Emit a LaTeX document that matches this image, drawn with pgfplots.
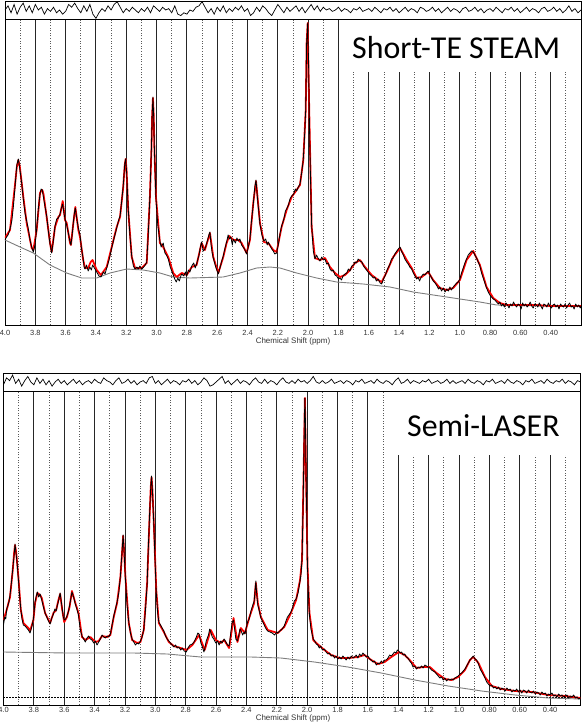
\documentclass[border=0pt]{standalone}
\usepackage{fontspec}
\setmainfont{Liberation Sans}
\newfontfamily\calibri{Carlito}
\usepackage{pgfplots}
\pgfplotsset{compat=1.18}

\definecolor{fitred}{RGB}{255,0,0}
\definecolor{basegray}{RGB}{125,125,125}

\pgfplotsset{
  mrs/.style={
    scale only axis,
    x dir=reverse, xmin=0.2, xmax=4.0, ymin=0,
    axis line style={black, line width=0.9bp},
    xtick={4.0,3.8,3.6,3.4,3.2,3.0,2.8,2.6,2.4,2.2,2.0,1.8,1.6,1.4,1.2,1.0,0.8,0.6,0.4},
    xticklabels={4.0,3.8,3.6,3.4,3.2,3.0,2.8,2.6,2.4,2.2,2.0,1.8,1.6,1.4,1.2,1.0,0.80,0.60,0.40},
    minor xtick={3.9,3.7,3.5,3.3,3.1,2.9,2.7,2.5,2.3,2.1,1.9,1.7,1.5,1.3,1.1,0.9,0.7,0.5,0.3},
    xmajorgrids, xminorgrids,
    major grid style={black!85, line width=0.9bp},
    minor grid style={black!65, line width=0.7bp, dash pattern=on 1bp off 1.6bp},
    ytick=\empty, major tick length=0pt, minor tick length=0pt,
    tick label style={font=\fontsize{7.5}{8}\selectfont, text=black!80},
    xticklabel style={inner sep=0pt, anchor=north},
  },
  resid/.style={
    scale only axis, height=18bp,
    x dir=reverse, xmin=0.2, xmax=4.0, ymin=-6.5, ymax=6.5,
    ticks=none, axis line style={black, line width=0.9bp},
  },
  dat/.style={black, line width=0.8bp, line join=round},
  fit/.style={fitred, line width=1.8bp, line join=round},
  base/.style={basegray, line width=0.9bp},
}

\begin{document}
\begin{tikzpicture}
\useasboundingbox (0,0) rectangle (582bp,-723bp);

% ---------------- top: short-TE STEAM ----------------
\begin{axis}[resid, width=576bp, at={(5bp,-1bp)}, anchor=north west]
\addplot[black, line width=0.7bp] coordinates {
(4.00,0)(3.98,3)(3.96,-2)(3.94,4)(3.92,-3)(3.90,2)(3.88,5)(3.86,-1)(3.84,3)(3.82,-2)
(3.80,4)(3.78,0)(3.76,2)(3.74,-3)(3.72,1)(3.70,-1)(3.68,2)(3.66,-2)(3.64,0)(3.62,-3)
(3.60,-1)(3.58,4)(3.56,2)(3.54,5)(3.52,1)(3.50,-2)(3.48,3)(3.46,-1)(3.44,4)(3.42,-3)
(3.40,-6)(3.38,-2)(3.36,1)(3.34,-1)(3.32,3)(3.30,0)(3.28,4)(3.26,6)(3.24,2)(3.22,-2)
(3.20,1)(3.18,-1)(3.16,2)(3.14,0)(3.12,-2)(3.10,1)(3.08,-1)(3.06,2)(3.04,-2)(3.02,3)
(3.00,1)(2.98,-1)(2.96,2)(2.94,0)(2.92,1)(2.90,-2)(2.88,3)(2.86,-3)(2.84,-4)(2.82,-2)
(2.80,-3)(2.78,0)(2.76,-1)(2.74,2)(2.72,3)(2.70,6)(2.68,2)(2.66,-2)(2.64,1)(2.62,-3)
(2.60,2)(2.58,-1)(2.56,3)(2.54,-2)(2.52,1)(2.50,-1)(2.48,2)(2.46,0)(2.44,3)(2.42,-1)
(2.40,1)(2.38,-4)(2.36,-2)(2.34,2)(2.32,-1)(2.30,3)(2.28,1)(2.26,-2)(2.24,-4)(2.22,0)
(2.20,4)(2.18,1)(2.16,-2)(2.14,2)(2.12,-1)(2.10,1)(2.08,3)(2.06,-1)(2.04,2)(2.02,-2)
(2.00,1)(1.98,4)(1.96,0)(1.94,3)(1.92,-1)(1.90,2)(1.88,0)(1.86,1)(1.84,-1)(1.82,0)
(1.80,2)(1.78,-1)(1.76,1)(1.74,0)(1.72,-2)(1.70,1)(1.68,0)(1.66,2)(1.64,-1)(1.62,0)
(1.60,1)(1.58,-1)(1.56,2)(1.54,0)(1.52,-2)(1.50,1)(1.48,0)(1.46,2)(1.44,-1)(1.42,1)
(1.40,-2)(1.38,0)(1.36,2)(1.34,-1)(1.32,1)(1.30,0)(1.28,-2)(1.26,2)(1.24,1)(1.22,-1)
(1.20,0)(1.18,2)(1.16,-1)(1.14,1)(1.12,-2)(1.10,0)(1.08,2)(1.06,-1)(1.04,1)(1.02,0)
(1.00,-2)(0.98,1)(0.96,2)(0.94,-1)(0.92,0)(0.90,2)(0.88,-1)(0.86,1)(0.84,-2)(0.82,0)
(0.80,1)(0.78,-1)(0.76,2)(0.74,0)(0.72,-2)(0.70,1)(0.68,0)(0.66,2)(0.64,-1)(0.62,1)
(0.60,-2)(0.58,0)(0.56,2)(0.54,-1)(0.52,1)(0.50,0)(0.48,-2)(0.46,1)(0.44,2)(0.42,-1)
(0.40,0)(0.38,2)(0.36,-1)(0.34,1)(0.32,-2)(0.30,0)(0.28,3)(0.26,-1)(0.24,1)(0.22,-2)(0.20,0)
};
\end{axis}

\begin{axis}[mrs, width=576bp, height=306bp, ymax=306, at={(5bp,-19bp)}, anchor=north west,
  xticklabel style={yshift=-5bp}]
\addplot[base] coordinates {
(4.000,85)(3.901,78)(3.813,72)(3.703,60)(3.593,52)(3.494,47)(3.395,47)(3.307,52)
(3.197,56)(3.088,55)(2.978,52)(2.890,48)(2.780,47)(2.560,48)(2.450,52)(2.340,57)
(2.252,58)(2.186,57)(2.076,52)(1.944,47)(1.812,43)(1.637,41)(1.460,38)(1.307,33)
(1.086,28)(0.867,23)(0.757,20)(0.600,19.5)(0.400,19)(0.200,19)
};
\addplot[fit] coordinates {
(4.000,87)(3.967,95)(3.934,140)(3.922,158)(3.912,165)(3.902,158)(3.879,128)(3.857,102)
(3.824,77)(3.813,75)(3.791,95)(3.769,132)(3.762,134)(3.754,135)(3.746,131)(3.725,108)
(3.703,82)(3.692,73)(3.670,98)(3.648,108)(3.637,110)(3.619,124)(3.604,105)(3.593,102)
(3.571,82)(3.565,80)(3.549,102)(3.536,118)(3.516,95)(3.505,88)(3.484,65)(3.472,57)
(3.451,57)(3.435,63)(3.422,65)(3.395,55)(3.367,50)(3.329,58)(3.296,78)(3.263,98)
(3.241,108)(3.220,138)(3.210,160)(3.204,166)(3.198,155)(3.187,115)(3.164,68)(3.142,57)
(3.098,57)(3.065,62)(3.044,128)(3.034,175)(3.029,210)(3.024,227)(3.019,210)(3.014,175)
(3.004,128)(2.978,82)(2.956,78)(2.923,68)(2.890,52)(2.867,48)(2.834,52)(2.801,50)
(2.768,58)(2.736,60)(2.703,82)(2.681,75)(2.648,92)(2.626,68)(2.593,52)(2.560,68)
(2.538,82)(2.520,89)(2.494,85)(2.461,85)(2.439,82)(2.406,72)(2.384,85)(2.362,122)
(2.344,144)(2.318,102)(2.292,83)(2.263,82)(2.230,75)(2.208,73)(2.175,98)(2.142,115)
(2.109,128)(2.076,135)(2.054,140)(2.032,165)(2.016,215)(2.010,282)(2.003,302)(1.993,215)
(1.977,98)(1.955,67)(1.922,65)(1.889,67)(1.856,58)(1.823,52)(1.790,48)(1.757,50)
(1.724,55)(1.691,62)(1.658,65)(1.625,58)(1.581,50)(1.538,45)(1.515,43)(1.482,53)
(1.439,68)(1.394,77)(1.350,65)(1.317,57)(1.284,47)(1.251,48)(1.208,53)(1.175,45)
(1.131,37)(1.086,35)(1.043,37)(0.999,45)(0.955,65)(0.911,74)(0.867,60)(0.823,38)
(0.779,27)(0.735,22)(0.691,20)(0.600,20)(0.500,20)(0.400,19)(0.300,19)(0.200,19)
};
\addplot[dat] coordinates {
(4.000,85)(3.990,88)(3.980,90)(3.967,96)(3.955,104)(3.945,118)(3.934,138)(3.922,160)
(3.912,166)(3.902,156)(3.890,142)(3.879,126)(3.868,112)(3.857,104)(3.846,96)(3.835,85)
(3.824,78)(3.813,73)(3.802,80)(3.791,96)(3.780,116)(3.769,131)(3.762,136)(3.754,135)
(3.740,122)(3.725,109)(3.714,94)(3.703,81)(3.692,72)(3.681,84)(3.670,99)(3.659,106)
(3.648,107)(3.637,111)(3.628,117)(3.619,121)(3.611,112)(3.604,106)(3.593,100)(3.582,92)
(3.571,83)(3.565,80)(3.557,90)(3.549,103)(3.542,112)(3.536,117)(3.526,106)(3.516,97)
(3.505,90)(3.495,76)(3.484,66)(3.478,58)(3.472,56)(3.462,60)(3.451,54)(3.440,58)
(3.430,55)(3.422,60)(3.410,57)(3.395,53)(3.380,49)(3.367,48)(3.350,53)(3.340,51)
(3.329,57)(3.312,66)(3.296,77)(3.280,87)(3.263,97)(3.250,105)(3.241,109)(3.230,124)
(3.220,139)(3.210,161)(3.204,166)(3.198,154)(3.187,116)(3.175,88)(3.164,69)(3.153,59)
(3.142,56)(3.130,58)(3.120,56)(3.110,59)(3.098,56)(3.085,58)(3.075,60)(3.065,63)
(3.055,90)(3.044,129)(3.034,177)(3.029,210)(3.024,228)(3.019,208)(3.014,174)(3.004,126)
(2.992,100)(2.978,84)(2.970,78)(2.956,82)(2.945,72)(2.935,70)(2.923,66)(2.910,58)
(2.900,54)(2.890,50)(2.880,46)(2.870,43)(2.860,47)(2.850,44)(2.840,49)(2.834,51)
(2.820,49)(2.810,53)(2.801,49)(2.790,55)(2.780,53)(2.768,59)(2.755,62)(2.745,57)
(2.736,61)(2.720,70)(2.710,79)(2.703,83)(2.692,74)(2.681,76)(2.665,84)(2.655,90)
(2.648,93)(2.640,80)(2.633,72)(2.626,67)(2.610,58)(2.600,54)(2.593,51)(2.580,58)
(2.570,64)(2.560,69)(2.550,76)(2.538,83)(2.528,90)(2.520,86)(2.510,88)(2.500,80)
(2.494,86)(2.480,82)(2.470,87)(2.461,84)(2.450,86)(2.439,80)(2.420,76)(2.406,71)
(2.395,78)(2.384,86)(2.375,102)(2.362,121)(2.352,138)(2.344,145)(2.335,128)(2.325,112)
(2.318,101)(2.305,90)(2.292,84)(2.280,86)(2.270,80)(2.263,83)(2.250,79)(2.240,76)
(2.230,74)(2.220,71)(2.208,72)(2.195,82)(2.185,92)(2.175,99)(2.160,106)(2.150,114)
(2.142,116)(2.130,120)(2.120,126)(2.109,129)(2.095,131)(2.085,136)(2.076,134)(2.065,138)
(2.054,141)(2.045,150)(2.038,158)(2.032,166)(2.024,188)(2.016,216)(2.010,282)(2.003,302)
(1.997,260)(1.993,214)(1.985,150)(1.977,100)(1.966,74)(1.955,66)(1.945,70)(1.935,67)
(1.922,64)(1.910,68)(1.900,65)(1.889,66)(1.878,61)(1.867,62)(1.856,56)(1.845,54)
(1.835,55)(1.823,50)(1.812,49)(1.800,46)(1.790,47)(1.780,45)(1.770,49)(1.757,51)
(1.745,52)(1.735,56)(1.724,54)(1.712,59)(1.700,60)(1.691,63)(1.680,62)(1.670,66)
(1.658,64)(1.645,63)(1.635,59)(1.625,57)(1.610,54)(1.595,51)(1.581,49)(1.570,47)
(1.560,48)(1.550,44)(1.538,46)(1.525,42)(1.515,41)(1.500,47)(1.490,50)(1.482,54)
(1.470,58)(1.460,61)(1.450,66)(1.439,67)(1.428,71)(1.415,74)(1.405,76)(1.394,78)
(1.385,74)(1.372,70)(1.362,66)(1.350,63)(1.340,61)(1.330,58)(1.317,56)(1.306,52)
(1.295,49)(1.284,46)(1.275,48)(1.265,44)(1.251,49)(1.240,51)(1.230,50)(1.220,52)
(1.208,54)(1.196,50)(1.185,47)(1.175,44)(1.162,42)(1.150,39)(1.140,36)(1.131,38)
(1.120,34)(1.108,37)(1.097,33)(1.086,36)(1.075,34)(1.065,38)(1.055,35)(1.043,38)
(1.032,40)(1.020,42)(1.010,43)(0.999,46)(0.988,52)(0.977,57)(0.966,62)(0.955,66)
(0.944,70)(0.933,72)(0.922,74)(0.911,73)(0.900,70)(0.889,67)(0.878,63)(0.867,59)
(0.856,52)(0.845,47)(0.834,42)(0.823,37)(0.812,33)(0.801,30)(0.790,28)(0.779,26)
(0.768,25)(0.757,23)(0.746,21)(0.735,23)(0.725,19)(0.715,21)(0.705,18)(0.695,22)
(0.685,20)(0.675,17)(0.665,21)(0.655,19)(0.645,23)(0.635,20)(0.625,18)(0.615,21)
(0.605,20)(0.595,16)(0.585,22)(0.575,19)(0.565,21)(0.555,18)(0.545,20)(0.535,23)
(0.525,19)(0.515,17)(0.505,21)(0.495,20)(0.485,18)(0.475,22)(0.465,19)(0.455,16)
(0.445,21)(0.435,20)(0.425,18)(0.415,22)(0.405,19)(0.395,17)(0.385,20)(0.375,21)
(0.365,18)(0.355,20)(0.345,16)(0.335,21)(0.325,19)(0.315,18)(0.305,21)(0.295,17)
(0.285,20)(0.275,22)(0.265,18)(0.255,19)(0.245,16)(0.235,21)(0.225,18)(0.215,20)
(0.205,17)(0.200,19)
};
\end{axis}
\fill[white] (346bp,-19.6bp) rectangle (580.4bp,-72bp);
\node[anchor=base west, inner sep=0pt, font=\calibri\fontsize{32}{32}\selectfont]
  at (352bp,-58bp) {Short-TE STEAM};
\node[font=\fontsize{8}{9}\selectfont, text=black!80] at (293bp,-341.5bp) {Chemical Shift (ppm)};

% ---------------- bottom: semi-LASER ----------------
\begin{axis}[resid, width=577bp, at={(3.5bp,-373bp)}, anchor=north west]
\addplot[black, line width=0.7bp] coordinates {
(4.00,-2)(3.98,3)(3.96,1)(3.94,5)(3.92,-1)(3.90,2)(3.88,-3)(3.86,1)(3.84,4)(3.82,0)
(3.80,-2)(3.78,3)(3.76,-1)(3.74,2)(3.72,-2)(3.70,1)(3.68,-3)(3.66,0)(3.64,2)(3.62,-1)
(3.60,1)(3.58,-2)(3.56,0)(3.54,2)(3.52,-1)(3.50,1)(3.48,-2)(3.46,0)(3.44,1)(3.42,-1)
(3.40,2)(3.38,0)(3.36,-1)(3.34,3)(3.32,1)(3.30,0)(3.28,-2)(3.26,1)(3.24,3)(3.22,-1)
(3.20,0)(3.18,2)(3.16,-1)(3.14,1)(3.12,-2)(3.10,0)(3.08,1)(3.06,-1)(3.04,3)(3.02,4)
(3.00,-1)(2.98,1)(2.96,-2)(2.94,0)(2.92,2)(2.90,-1)(2.88,1)(2.86,0)(2.84,-2)(2.82,1)
(2.80,0)(2.78,2)(2.76,-1)(2.74,1)(2.72,-2)(2.70,0)(2.68,3)(2.66,1)(2.64,-3)(2.62,-2)
(2.60,0)(2.58,2)(2.56,4)(2.54,-1)(2.52,1)(2.50,-2)(2.48,0)(2.46,2)(2.44,-1)(2.42,1)
(2.40,0)(2.38,-2)(2.36,1)(2.34,3)(2.32,0)(2.30,-1)(2.28,2)(2.26,-1)(2.24,1)(2.22,0)
(2.20,-2)(2.18,1)(2.16,3)(2.14,0)(2.12,-1)(2.10,1)(2.08,-1)(2.06,2)(2.04,0)(2.02,1)
(2.00,-1)(1.98,1)(1.96,4)(1.94,0)(1.92,-1)(1.90,1)(1.88,-1)(1.86,0)(1.84,2)(1.82,-1)
(1.80,0)(1.78,1)(1.76,-1)(1.74,1)(1.72,0)(1.70,-2)(1.68,1)(1.66,0)(1.64,2)(1.62,-1)
(1.60,0)(1.58,1)(1.56,-1)(1.54,2)(1.52,0)(1.50,-1)(1.48,1)(1.46,0)(1.44,-2)(1.42,1)
(1.40,3)(1.38,-1)(1.36,0)(1.34,2)(1.32,-1)(1.30,1)(1.28,0)(1.26,-1)(1.24,1)(1.22,0)
(1.20,2)(1.18,-1)(1.16,0)(1.14,1)(1.12,-1)(1.10,0)(1.08,2)(1.06,-1)(1.04,1)(1.02,-1)
(1.00,0)(0.98,1)(0.96,-1)(0.94,2)(0.92,0)(0.90,-1)(0.88,1)(0.86,0)(0.84,-2)(0.82,1)
(0.80,0)(0.78,2)(0.76,-1)(0.74,0)(0.72,1)(0.70,-1)(0.68,2)(0.66,0)(0.64,-1)(0.62,1)
(0.60,0)(0.58,-2)(0.56,1)(0.54,0)(0.52,2)(0.50,-1)(0.48,0)(0.46,1)(0.44,-1)(0.42,2)
(0.40,0)(0.38,-1)(0.36,1)(0.34,0)(0.32,2)(0.30,-1)(0.28,1)(0.26,0)(0.24,-2)(0.22,1)(0.20,0)
};
\end{axis}

\begin{axis}[mrs, width=577bp, height=314bp, ymax=314, at={(3.5bp,-391bp)}, anchor=north west,
  xticklabel style={yshift=-2bp}]
\addplot[black, line width=0.7bp, dash pattern=on 1.2bp off 1.8bp] coordinates {(4.0,8) (0.2,8)};
\addplot[base] coordinates {
(4.000,53)(3.582,52)(3.142,52)(2.921,51)(2.701,48)(2.371,48)(2.173,47)(1.952,43)
(1.732,38)(1.512,32)(1.291,25)(1.071,19)(0.851,14)(0.631,10)(0.412,7)(0.200,6)
};
\addplot[fit] coordinates {
(4.000,85)(3.979,95)(3.957,108)(3.939,135)(3.930,152)(3.924,160)(3.916,152)(3.902,128)
(3.886,95)(3.869,82)(3.836,77)(3.825,74)(3.803,85)(3.792,102)(3.777,112)(3.759,110)
(3.748,107)(3.726,92)(3.693,82)(3.671,92)(3.653,95)(3.638,105)(3.627,111)(3.613,95)
(3.600,83)(3.582,88)(3.565,98)(3.549,114)(3.527,102)(3.506,92)(3.483,68)(3.461,65)
(3.428,68)(3.395,63)(3.373,64)(3.351,69)(3.318,68)(3.296,70)(3.274,88)(3.252,102)
(3.230,128)(3.218,155)(3.212,169)(3.206,155)(3.197,128)(3.175,82)(3.153,65)(3.120,62)
(3.098,63)(3.076,75)(3.054,122)(3.038,188)(3.030,218)(3.025,228)(3.019,215)(3.010,182)
(2.994,115)(2.977,82)(2.944,73)(2.911,63)(2.878,59)(2.833,57)(2.796,55)(2.756,60)
(2.712,70)(2.675,55)(2.635,75)(2.602,65)(2.569,62)(2.547,65)(2.514,57)(2.485,87)
(2.459,63)(2.437,77)(2.410,72)(2.382,87)(2.349,102)(2.338,122)(2.325,102)(2.305,88)
(2.260,75)(2.194,72)(2.151,78)(2.107,92)(2.073,105)(2.047,125)(2.034,145)(2.023,235)
(2.015,307)(2.008,235)(1.998,140)(1.985,92)(1.960,65)(1.940,62)(1.886,55)(1.842,50)
(1.787,47)(1.732,47)(1.666,48)(1.622,50)(1.578,45)(1.534,41)(1.490,43)(1.446,48)
(1.397,53)(1.358,50)(1.325,45)(1.280,37)(1.236,38)(1.192,38)(1.148,32)(1.093,26)
(1.049,25)(1.005,28)(0.961,35)(0.928,45)(0.906,48)(0.872,42)(0.829,28)(0.784,19)
(0.718,16)(0.631,14)(0.520,13)(0.410,10)(0.300,9)(0.200,7)
};
\addplot[dat] coordinates {
(4.000,80)(3.992,88)(3.985,86)(3.979,96)(3.970,100)(3.963,104)(3.957,110)(3.948,122)
(3.939,136)(3.930,150)(3.924,161)(3.916,150)(3.909,140)(3.902,126)(3.894,110)(3.886,96)
(3.878,86)(3.869,80)(3.858,79)(3.847,77)(3.836,75)(3.825,72)(3.814,78)(3.803,86)
(3.792,103)(3.784,109)(3.777,113)(3.768,108)(3.759,111)(3.748,105)(3.737,98)(3.726,92)
(3.715,88)(3.704,84)(3.693,81)(3.682,87)(3.671,91)(3.662,96)(3.653,94)(3.645,100)
(3.638,104)(3.627,112)(3.620,104)(3.613,96)(3.606,88)(3.600,85)(3.591,86)(3.582,89)
(3.573,93)(3.565,99)(3.557,106)(3.549,113)(3.538,108)(3.527,101)(3.517,96)(3.506,90)
(3.495,76)(3.483,69)(3.472,66)(3.461,63)(3.450,67)(3.439,69)(3.428,66)(3.417,65)
(3.406,62)(3.395,64)(3.384,60)(3.373,63)(3.362,66)(3.351,70)(3.340,68)(3.329,67)
(3.318,69)(3.307,68)(3.296,71)(3.285,80)(3.274,89)(3.263,96)(3.252,103)(3.241,112)
(3.230,129)(3.218,156)(3.212,170)(3.206,154)(3.197,126)(3.186,100)(3.175,83)(3.164,72)
(3.153,66)(3.142,63)(3.131,60)(3.120,62)(3.109,61)(3.098,64)(3.087,68)(3.076,76)
(3.065,95)(3.054,121)(3.046,158)(3.038,190)(3.030,219)(3.025,229)(3.019,214)(3.010,180)
(3.002,145)(2.994,113)(2.985,93)(2.977,83)(2.966,80)(2.955,77)(2.944,74)(2.933,69)
(2.922,66)(2.911,64)(2.900,62)(2.889,60)(2.878,58)(2.867,60)(2.856,57)(2.845,58)
(2.833,55)(2.822,57)(2.810,54)(2.796,53)(2.785,57)(2.772,60)(2.756,61)(2.745,63)
(2.730,68)(2.720,72)(2.712,71)(2.700,62)(2.690,58)(2.680,53)(2.675,56)(2.665,64)
(2.650,70)(2.642,76)(2.635,73)(2.625,68)(2.615,66)(2.602,62)(2.590,64)(2.580,60)
(2.569,64)(2.560,62)(2.547,66)(2.535,63)(2.525,60)(2.514,59)(2.505,70)(2.495,82)
(2.485,85)(2.478,76)(2.470,66)(2.459,64)(2.450,70)(2.443,76)(2.437,75)(2.425,70)
(2.415,73)(2.410,71)(2.400,78)(2.390,84)(2.382,86)(2.370,94)(2.358,100)(2.349,104)
(2.343,115)(2.338,124)(2.332,110)(2.325,100)(2.315,94)(2.305,87)(2.292,83)(2.280,79)
(2.270,76)(2.260,74)(2.245,73)(2.230,72)(2.215,70)(2.200,73)(2.194,72)(2.180,74)
(2.165,76)(2.151,79)(2.140,84)(2.130,88)(2.120,90)(2.107,93)(2.095,98)(2.085,104)
(2.073,106)(2.060,112)(2.047,124)(2.040,132)(2.034,146)(2.028,190)(2.023,236)(2.019,280)
(2.015,307)(2.011,280)(2.008,236)(2.003,190)(1.998,138)(1.992,112)(1.985,90)(1.975,76)
(1.960,66)(1.950,64)(1.940,61)(1.930,60)(1.920,57)(1.910,59)(1.900,55)(1.886,56)
(1.875,53)(1.864,51)(1.853,52)(1.842,49)(1.830,50)(1.820,47)(1.810,49)(1.798,46)
(1.787,48)(1.776,46)(1.765,49)(1.754,47)(1.743,45)(1.732,48)(1.720,46)(1.710,49)
(1.698,47)(1.688,48)(1.677,50)(1.666,47)(1.655,51)(1.644,49)(1.633,52)(1.622,50)
(1.611,48)(1.600,49)(1.589,46)(1.578,45)(1.567,43)(1.556,44)(1.545,40)(1.534,42)
(1.523,41)(1.512,44)(1.501,42)(1.490,45)(1.479,45)(1.468,47)(1.457,50)(1.446,49)
(1.435,51)(1.425,53)(1.415,52)(1.406,55)(1.397,54)(1.388,52)(1.378,53)(1.368,50)
(1.358,51)(1.347,48)(1.336,47)(1.325,44)(1.314,42)(1.303,38)(1.292,39)(1.280,36)
(1.270,38)(1.258,37)(1.247,39)(1.236,37)(1.225,40)(1.214,39)(1.203,38)(1.192,37)
(1.181,35)(1.170,34)(1.159,33)(1.148,31)(1.137,29)(1.126,27)(1.115,28)(1.104,25)
(1.093,27)(1.082,24)(1.071,26)(1.060,25)(1.049,26)(1.038,25)(1.027,27)(1.016,28)
(1.005,29)(0.994,31)(0.983,32)(0.972,34)(0.961,36)(0.950,39)(0.939,42)(0.928,45)
(0.917,47)(0.906,49)(0.895,46)(0.884,45)(0.872,41)(0.861,36)(0.850,33)(0.839,30)
(0.829,27)(0.818,23)(0.807,21)(0.796,19)(0.784,20)(0.773,17)(0.762,18)(0.751,16)
(0.740,18)(0.729,15)(0.718,17)(0.707,16)(0.696,14)(0.685,17)(0.674,15)(0.663,16)
(0.652,13)(0.641,15)(0.631,14)(0.620,16)(0.609,13)(0.598,15)(0.587,12)(0.576,15)
(0.565,14)(0.554,12)(0.543,15)(0.532,13)(0.520,12)(0.509,14)(0.498,11)(0.487,13)
(0.476,12)(0.465,10)(0.454,13)(0.443,11)(0.432,12)(0.421,9)(0.410,11)(0.399,10)
(0.388,12)(0.377,9)(0.366,10)(0.355,8)(0.344,11)(0.333,9)(0.322,10)(0.311,8)
(0.300,9)(0.289,10)(0.278,7)(0.267,9)(0.256,8)(0.245,10)(0.234,7)(0.223,8)
(0.212,6)(0.200,7)
};
\end{axis}
\fill[white] (392bp,-391.6bp) rectangle (580.0bp,-455bp);
\node[anchor=base west, inner sep=0pt, font=\calibri\fontsize{32}{32}\selectfont]
  at (407bp,-436bp) {Semi-LASER};
\node[font=\fontsize{8}{9}\selectfont, text=black!80] at (293bp,-718.5bp) {Chemical Shift (ppm)};
\end{tikzpicture}
\end{document}
